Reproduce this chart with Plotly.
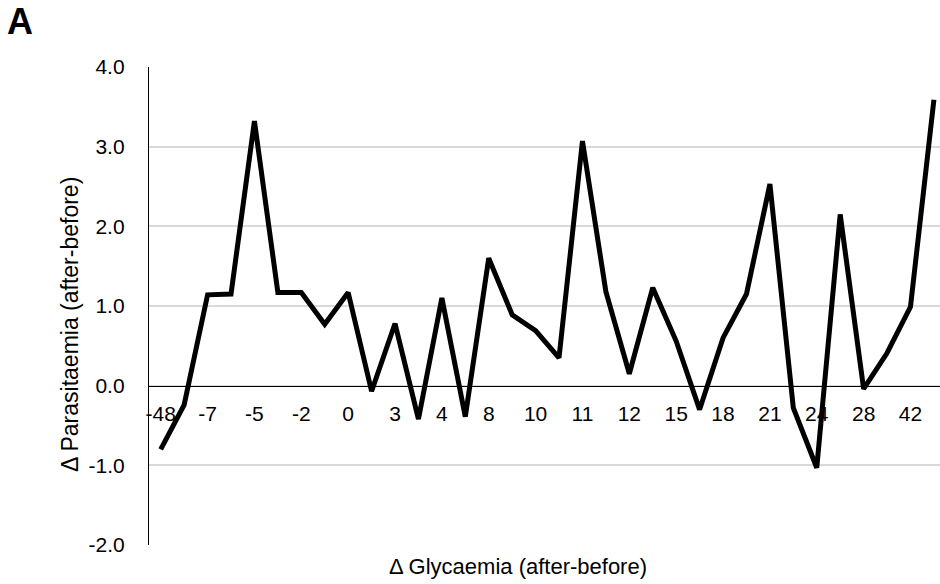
import plotly.graph_objects as go

# Δ Glycaemia categories (sorted); only every other label is shown on the axis
glycaemia = [-48, -10, -7, -6, -5, -3, -2, -1, 0, 2, 3, 3, 4, 5, 8, 9, 10, 10,
             11, 11, 12, 14, 15, 16, 18, 20, 21, 22, 24, 25, 28, 35, 42, 55]
# Δ Parasitaemia values
parasitaemia = [-0.80, -0.24, 1.14, 1.15, 3.32, 1.17, 1.17, 0.77, 1.17, -0.07,
                0.78, -0.42, 1.10, -0.39, 1.60, 0.89, 0.69, 0.35, 3.07, 1.18,
                0.15, 1.23, 0.56, -0.30, 0.60, 1.15, 2.53, -0.28, -1.03, 2.15,
                -0.04, 0.41, 0.99, 3.59]
y_ticks = [-2, -1, 0, 1, 2, 3, 4]

W, H = 940, 584
L, R, T, B = 149, 0, 67, 39

def px_x(p):
    return (p - L) / (W - L - R)

def px_y(p):
    return (H - B - p) / (H - T - B)

idx = list(range(len(glycaemia)))
shown = idx[::2]

fig = go.Figure()
fig.add_trace(go.Scatter(
    x=idx, y=parasitaemia, mode="lines",
    line=dict(color="black", width=5, shape="linear"),
    hoverinfo="skip", showlegend=False,
))

FONT = "Arial, Liberation Sans, sans-serif"

fig.update_layout(
    width=W, height=H,
    margin=dict(l=L, r=R, t=T, b=B, pad=0),
    paper_bgcolor="white", plot_bgcolor="white",
    font=dict(family=FONT, color="black", size=21),
    xaxis=dict(
        range=[-0.5, 33.26],
        tickvals=shown,
        ticktext=[str(glycaemia[i]) for i in shown],
        anchor="free", position=1/3,
        showline=True, linecolor="black", linewidth=1.3,
        showgrid=False, zeroline=False,
        ticks="outside", ticklen=9, tickcolor="rgba(0,0,0,0)",
        tickfont=dict(size=21),
    ),
    yaxis=dict(
        range=[-2, 4],
        tickvals=y_ticks,
        ticktext=[f"{v:.1f}" for v in y_ticks],
        showline=True, linecolor="black", linewidth=1.3,
        showgrid=True, gridcolor="#d9d9d9", gridwidth=1.5,
        zeroline=False,
        ticks="", ticklabelstandoff=19,
        tickfont=dict(size=21),
    ),
    annotations=[
        dict(text="\u0394 Glycaemia (after-before)", xref="paper", yref="paper",
             x=px_x(518), y=px_y(566), xanchor="center", yanchor="middle",
             showarrow=False, font=dict(size=22)),
        dict(text="\u0394 Parasitaemia (after-before)", xref="paper", yref="paper",
             x=px_x(70), y=px_y(325), xanchor="center", yanchor="middle",
             textangle=-90, showarrow=False, font=dict(size=23)),
        dict(text="<b>A</b>", xref="paper", yref="paper",
             x=px_x(5), y=px_y(22), xanchor="left", yanchor="middle",
             showarrow=False, font=dict(size=36)),
    ],
)

fig.write_html("out.html")
